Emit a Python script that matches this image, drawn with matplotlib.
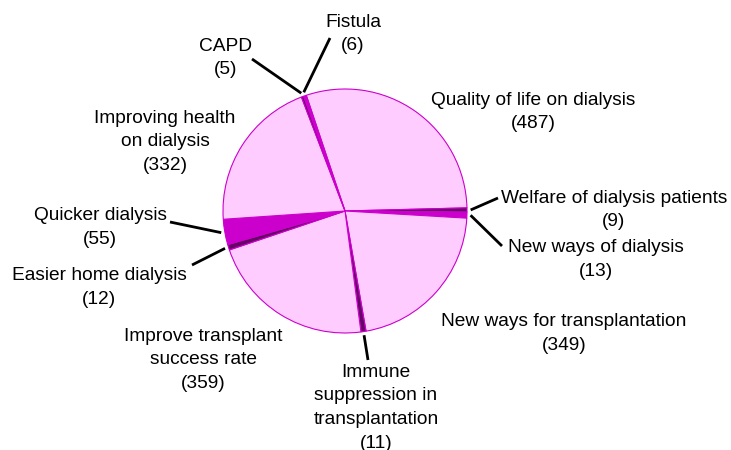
import numpy as np
import matplotlib
matplotlib.use("Agg")
import matplotlib.pyplot as plt

plt.rcParams["font.family"] = ["Liberation Sans", "DejaVu Sans"]
plt.rcParams.update({'font.size': 13.8})

# slices, clockwise from the top
labels = ['Quality of life on dialysis', 'Welfare of dialysis patients', 'New ways of dialysis',
          'New ways for transplantation', 'Immune\nsuppression in\ntransplantation',
          'Improve transplant\nsuccess rate', 'Easier home dialysis', 'Quicker dialysis',
          'Improving health\non dialysis', 'CAPD', 'Fistula']
counts = [487, 9, 13, 349, 11, 359, 12, 55, 332, 5, 6]

PINK, DARK, MAG = '#FFCCFF', '#660066', '#CC00CC'
colours = [PINK, DARK, MAG, PINK, DARK, PINK, DARK, MAG, PINK, DARK, MAG]

# label layout in pixel coords: text centre (x, y of first line), leader end (or None)
label_pos = [(533, 100, None), (614, 198, (498, 198)), (596, 247, (502, 246)),
             (564, 321, None), (376, 372, (368, 360)), (203, 336, None),
             (99, 275, (192, 265)), (100, 215, (170, 222)), (165, 118, None),
             (226, 46, (252, 59)), (353, 22, (330, 38))]

W, H = 731, 450
cx, cy, r = 345, 211, 122
start = 108.5

fig = plt.figure(figsize=(W/100, H/100), dpi=100)
ax = fig.add_axes([0, 0, 1, 1])

wedges, _ = ax.pie(counts, colors=colours, startangle=start, counterclock=False,
                   center=(cx, H - cy), radius=r, frame=True,
                   wedgeprops=dict(edgecolor=MAG, linewidth=0.8))
ax.set_xlim(0, W)
ax.set_ylim(0, H)
ax.set_aspect('equal')
ax.axis('off')

for w, lab, n, (tx, ty, lend) in zip(wedges, labels, counts, label_pos):
    # ty is the centre of the first line, so the top of the block sits a bit above
    ax.text(tx, H - ty + 8, lab + '\n(%d)' % n, ha='center', va='top', linespacing=1.5)
    if lend is not None:
        mid = np.deg2rad((w.theta1 + w.theta2) / 2)
        sx = cx + r * 1.03 * np.cos(mid)
        sy = (H - cy) + r * 1.03 * np.sin(mid)
        ax.plot([sx, lend[0]], [sy, H - lend[1]], color='black', lw=2, solid_capstyle='butt')

plt.savefig('out.png', dpi=100)
